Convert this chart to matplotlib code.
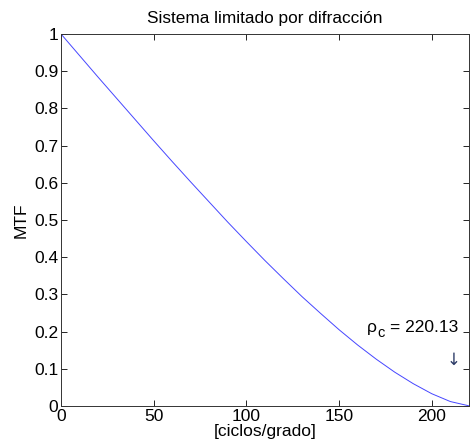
import numpy as np
import matplotlib
matplotlib.use('Agg')
import matplotlib.pyplot as plt

# frecuencia espacial [ciclos/grado] y MTF
rho = [0, 10, 20, 30, 40, 50, 60, 70, 80, 90, 100, 110,
       120, 130, 140, 150, 160, 170, 180, 190, 200, 210, 220, 220.13]
mtf = [1.000, 0.942, 0.884, 0.827, 0.770, 0.713, 0.657, 0.602, 0.548, 0.494,
       0.442, 0.391, 0.342, 0.294, 0.249, 0.205, 0.164, 0.126, 0.091, 0.060,
       0.033, 0.012, 0.0005, 0.0]
rho_c = 220.13

plt.rcParams['font.family'] = ['Liberation Sans', 'DejaVu Sans']
plt.rcParams['font.size'] = 12.5

fig = plt.figure(figsize=(4.71, 4.47), dpi=100)
ax = fig.add_axes([0.1295, 0.0917, 0.866, 0.8323])
ax.plot(rho, mtf, color='#4646ff', lw=0.7)

ax.set_xlim(0, 220)
ax.set_ylim(0, 1)
ax.set_xticks([0, 50, 100, 150, 200])
ax.set_yticks(np.arange(0, 1.01, 0.1))
ax.set_yticklabels(['0', '0.1', '0.2', '0.3', '0.4', '0.5', '0.6', '0.7', '0.8', '0.9', '1'])
ax.tick_params(direction='in', top=True, right=True, length=4, width=0.6, pad=2)
for s in ax.spines.values():
    s.set_linewidth(0.7)
    s.set_color('#333333')

ax.set_title('Sistema limitado por difracción', fontsize=12.4, pad=8)
ax.set_xlabel('[ciclos/grado]', labelpad=0)
ax.set_ylabel('MTF', labelpad=4)

# etiqueta rho_c con subindice al estilo MATLAB
lx, ly = 165, 0.21
ax.text(lx, ly, 'ρ', va='center', ha='left')
ax.annotate('c', (lx, ly), xytext=(7.2, -3.8), textcoords='offset points',
            va='center', ha='left', fontsize=10.5)
ax.annotate('= %.2f' % rho_c, (lx, ly), xytext=(16.5, 0), textcoords='offset points',
            va='center', ha='left')
ax.text(212, 0.125, '↓', va='center', ha='center', color='#2b3a66',
        family=['DejaVu Sans'], fontsize=12)

fig.savefig('out.png', dpi=100)
